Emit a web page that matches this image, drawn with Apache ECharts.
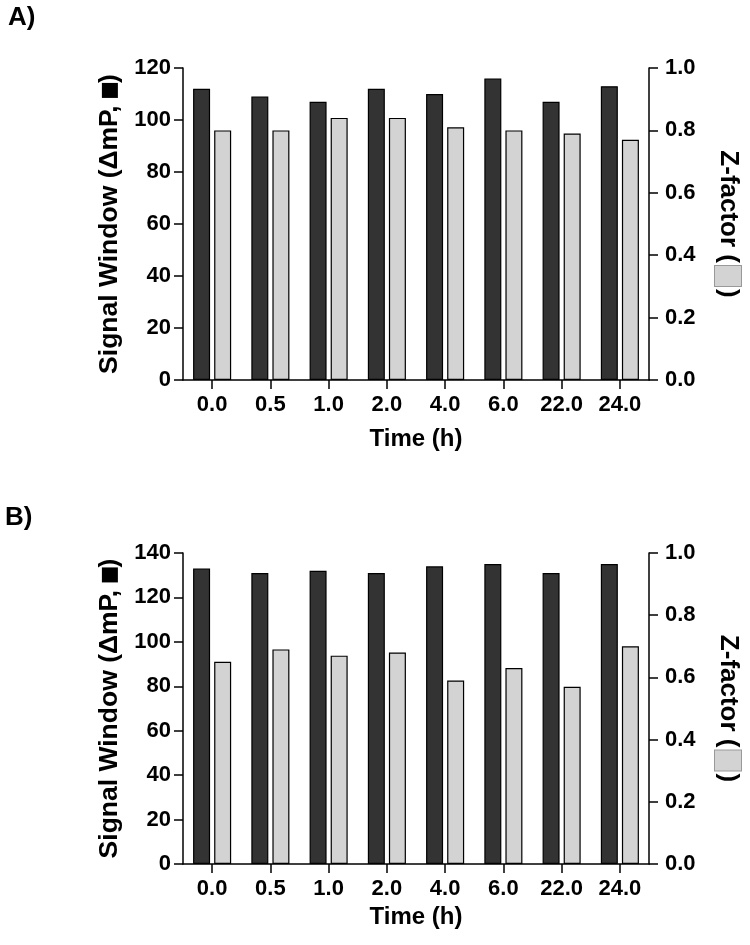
<!DOCTYPE html>
<html>
<head>
<meta charset="utf-8">
<script src="https://cdn.jsdelivr.net/npm/echarts@6/dist/echarts.min.js"></script>
<style>
html,body{margin:0;padding:0;background:#fff;}
#chart{width:750px;height:945px;}
</style>
</head>
<body>
<div id="chart"></div>
<script>
// ---- data ----
const categories = ['0.0', '0.5', '1.0', '2.0', '4.0', '6.0', '22.0', '24.0'];
const signalA = [112, 109, 107, 112, 110, 116, 107, 113];
const zFactorA = [0.80, 0.80, 0.84, 0.84, 0.81, 0.80, 0.79, 0.77];
const signalB = [133, 131, 132, 131, 134, 135, 131, 135];
const zFactorB = [0.65, 0.69, 0.67, 0.68, 0.59, 0.63, 0.57, 0.70];
const signalRangeA = [0, 120, 20];   // min, max, step
const signalRangeB = [0, 140, 20];
const zRange = [0, 1, 0.2];
const panelLabels = ['A)', 'B)'];
const xTitle = 'Time (h)';

const FONT = '"Liberation Sans", Arial, sans-serif';
const BLACK = '#000';

const chart = echarts.init(document.getElementById('chart'), null, {renderer: 'canvas'});

const axisLine = {show: true, lineStyle: {color: BLACK, width: 1.5}};
const tickStyle = {show: true, length: 9, lineStyle: {color: BLACK, width: 1.5}};
const tickLabel = {color: BLACK, fontFamily: FONT, fontWeight: 'bold', fontSize: 22};

function xAxis(gridIndex, gap) {
  return {
    type: 'category', gridIndex: gridIndex, data: categories,
    axisLine: axisLine,
    axisTick: Object.assign({alignWithLabel: true}, tickStyle),
    axisLabel: Object.assign({margin: 14, interval: 0}, tickLabel),
    splitLine: {show: false},
    name: xTitle, nameLocation: 'middle', nameGap: gap,
    nameTextStyle: {color: BLACK, fontFamily: FONT, fontWeight: 'bold', fontSize: 24}
  };
}

function leftAxis(gridIndex, range) {
  return {
    type: 'value', gridIndex: gridIndex, position: 'left',
    min: range[0], max: range[1], interval: range[2],
    axisLine: axisLine, axisTick: tickStyle,
    axisLabel: Object.assign({margin: 12}, tickLabel),
    splitLine: {show: false},
    name: 'Signal Window (ΔmP, {sq|})', nameLocation: 'middle', nameGap: 57,
    nameTextStyle: {
      color: BLACK, fontFamily: FONT, fontWeight: 'bold', fontSize: 26.5,
      rich: {sq: {width: 15, height: 16, backgroundColor: BLACK, verticalAlign: 'middle'}}
    }
  };
}

function rightAxis(gridIndex, range) {
  return {
    type: 'value', gridIndex: gridIndex, position: 'right',
    min: range[0], max: range[1], interval: range[2],
    axisLine: axisLine, axisTick: tickStyle,
    axisLabel: Object.assign({margin: 16, formatter: v => v.toFixed(1)}, tickLabel),
    splitLine: {show: false},
    name: 'Z-factor ({g| }{bx|}{g| })', nameLocation: 'middle', nameGap: 66, nameRotate: -90,
    nameTextStyle: {
      color: BLACK, fontFamily: FONT, fontWeight: 'bold', fontSize: 26,
      rich: {
        g: {width: 3},
        bx: {width: 20, height: 26, backgroundColor: '#d3d3d3', borderColor: '#999', borderWidth: 1, verticalAlign: 'middle'}
      }
    }
  };
}

function bars(name, data, xi, yi, color) {
  return {
    type: 'bar', name: name, data: data, xAxisIndex: xi, yAxisIndex: yi,
    barWidth: 17, barGap: '24%',
    itemStyle: {color: color, borderColor: BLACK, borderWidth: 1.2},
    emphasis: {disabled: true}, silent: true
  };
}

chart.setOption({
  animation: false,
  backgroundColor: '#fff',
  grid: [
    {left: 183, width: 466.5, top: 68, height: 312},
    {left: 183, width: 466.5, top: 553, height: 311}
  ],
  xAxis: [xAxis(0, 47), xAxis(1, 41)],
  yAxis: [
    leftAxis(0, signalRangeA), rightAxis(0, zRange),
    leftAxis(1, signalRangeB), rightAxis(1, zRange)
  ],
  series: [
    bars('Signal A', signalA, 0, 0, '#333333'),
    bars('Z A', zFactorA, 0, 1, '#d3d3d3'),
    bars('Signal B', signalB, 1, 2, '#333333'),
    bars('Z B', zFactorB, 1, 3, '#d3d3d3')
  ],
  graphic: [
    {type: 'text', left: 8, top: 5, style: {text: panelLabels[0], fill: BLACK, font: 'bold 26px ' + FONT}},
    {type: 'text', left: 5, top: 505, style: {text: panelLabels[1], fill: BLACK, font: 'bold 26px ' + FONT}}
  ]
});
</script>
</body>
</html>
